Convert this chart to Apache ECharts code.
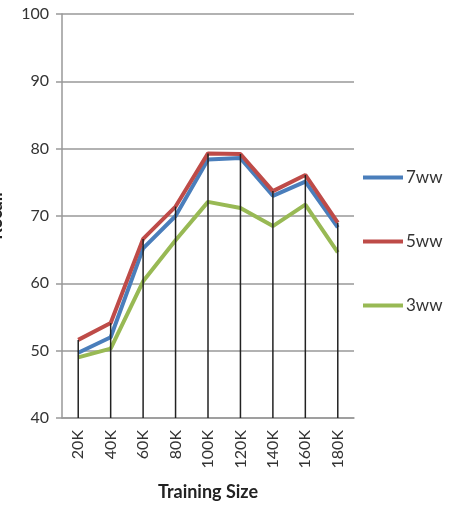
<!DOCTYPE html>
<html>
<head>
<meta charset="utf-8">
<script src="https://cdn.jsdelivr.net/npm/echarts@6/dist/echarts.min.js"></script>
<style>
    html, body { margin: 0; padding: 0; background: #fff; }
    #chart { width: 449px; height: 505px; }
</style>
</head>
<body>
<div id="chart"></div>
<script>
    // 数据
    var categories = ['20K', '40K', '60K', '80K', '100K', '120K', '140K', '160K', '180K'];
    var ww7 = [49.7, 52.0, 65.2, 70.0, 78.4, 78.6, 73.0, 75.1, 68.3];
    var ww5 = [51.6, 54.1, 66.6, 71.4, 79.3, 79.2, 73.7, 76.1, 69.0];
    var ww3 = [49.0, 50.3, 60.3, 66.4, 72.1, 71.2, 68.5, 71.7, 64.6];
    var yTicks = [40, 50, 60, 70, 80, 90, 100];

    // drop lines: 从轴到最高点
    var dropData = categories.map(function (c, i) {
        return Math.max(ww7[i], ww5[i], ww3[i]);
    });

    var font = 'Lato, "Liberation Sans", sans-serif';
    var myChart = echarts.init(document.getElementById('chart'));
    var option = {
        animation: false,
        textStyle: { fontFamily: font },
        grid: { left: 62, right: 95, top: 14, bottom: 87, containLabel: false, outerBoundsMode: 'none' },
        legend: {
            orient: 'vertical',
            left: 363,
            top: 169,
            padding: 0,
            itemWidth: 40,
            itemHeight: 4,
            itemGap: 47,
            icon: 'rect',
            data: ['7ww', '5ww', '3ww'],
            textStyle: { fontSize: 17, color: '#333', fontFamily: font, padding: [0, 0, 0, -2] }
        },
        xAxis: {
            type: 'category',
            data: categories,
            boundaryGap: true,
            name: 'Training Size',
            nameLocation: 'middle',
            nameGap: 65,
            nameTextStyle: { fontSize: 18, fontWeight: 'bold', color: '#222' },
            axisLine: { lineStyle: { color: '#999', width: 1.5 } },
            axisTick: { show: false },
            axisLabel: { rotate: 90, fontSize: 16, color: '#333', margin: 12 }
        },
        yAxis: {
            type: 'value',
            min: yTicks[0],
            max: yTicks[yTicks.length - 1],
            interval: 10,
            name: 'Recall',
            nameLocation: 'middle',
            nameGap: 57,
            nameTextStyle: { fontSize: 18, fontWeight: 'bold', color: '#222' },
            axisLine: { show: true, lineStyle: { color: '#999', width: 1.5 } },
            axisTick: { show: true, inside: false, length: 6, lineStyle: { color: '#999', width: 1.5 } },
            axisLabel: { fontSize: 16, color: '#333', margin: 13 },
            splitLine: { lineStyle: { color: '#999', width: 1.5 } }
        },
        series: [
            {
                name: 'drop',
                type: 'bar',
                data: dropData,
                barWidth: 1.5,
                itemStyle: { color: '#222' },
                z: 3
            },
            {
                name: '7ww',
                type: 'line',
                data: ww7,
                showSymbol: false,
                symbol: 'none',
                lineStyle: { width: 4, color: '#4a7ebb' },
                itemStyle: { color: '#4a7ebb' },
                z: 2
            },
            {
                name: '5ww',
                type: 'line',
                data: ww5,
                showSymbol: false,
                symbol: 'none',
                lineStyle: { width: 4, color: '#be4b48' },
                itemStyle: { color: '#be4b48' },
                z: 2
            },
            {
                name: '3ww',
                type: 'line',
                data: ww3,
                showSymbol: false,
                symbol: 'none',
                lineStyle: { width: 4, color: '#98b954' },
                itemStyle: { color: '#98b954' },
                z: 2
            }
        ]
    };
    myChart.setOption(option);
</script>
</body>
</html>
